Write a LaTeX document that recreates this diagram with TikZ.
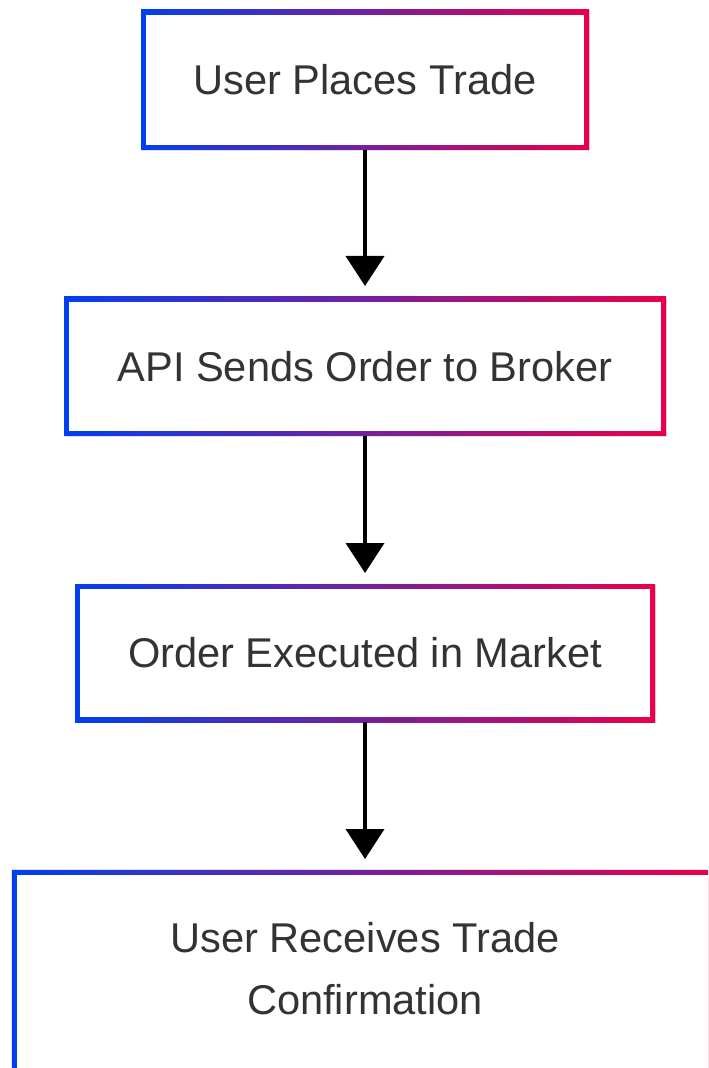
\documentclass[tikz,border=0pt]{standalone}
\usepackage{fontspec}
\setmainfont{Liberation Sans}
\usetikzlibrary{arrows.meta,positioning,calc,shadows}
\definecolor{edgeblue}{HTML}{0040F0}
\definecolor{edgered}{HTML}{E8004A}
\definecolor{labelgray}{HTML}{333333}

\tikzset{
  stepbase/.style={rectangle, draw=none, inner sep=0pt, outer sep=0pt,
    left color=edgeblue, right color=edgered,
    text=labelgray, font=\fontsize{20.8}{31}\selectfont, align=center},
  stepbox/.style={stepbase,
    drop shadow={opacity=0.12, fill=black, shadow xshift=0.6pt, shadow yshift=-0.6pt},
    path picture={\fill[white] ($(path picture bounding box.south west)+(2.5pt,2.5pt)$)
      rectangle ($(path picture bounding box.north east)-(2.5pt,2.5pt)$);}},
  % last box runs off the page: no frame at right and bottom
  openbox/.style={stepbase,
    drop shadow={opacity=0.12, fill=black, shadow xshift=-0.6pt, shadow yshift=0.6pt},
    path picture={\fill[white] ($(path picture bounding box.south west)+(2.5pt,0pt)$)
      rectangle ($(path picture bounding box.north east)-(0pt,2.5pt)$);}},
  flowarrow/.style={-{Triangle[length=15pt,width=19pt]}, line width=2pt, shorten >=5.5pt}
}

\begin{document}
\begin{tikzpicture}
  \useasboundingbox (0,0) rectangle (354pt,-534pt);

  \node[stepbox, minimum width=224pt, minimum height=70pt] (trade) at (182.5pt,-40pt) {User Places Trade};
  \node[stepbox, minimum width=301pt, minimum height=69.5pt] (api) at (182.5pt,-183.25pt) {API Sends Order to Broker};
  \node[stepbox, minimum width=290pt, minimum height=69pt] (market) at (182.5pt,-326.5pt) {Order Executed in Market};
  \node[openbox, minimum width=348pt, minimum height=99pt] (confirm) at (180pt,-484.5pt)
    {\hspace*{5pt}User Receives Trade\\\hspace*{5pt}Confirmation};

  \draw[flowarrow] (trade) -- (api);
  \draw[flowarrow] (api) -- (market);
  \draw[flowarrow] (market.south) -- (market.south |- confirm.north);
\end{tikzpicture}
\end{document}
